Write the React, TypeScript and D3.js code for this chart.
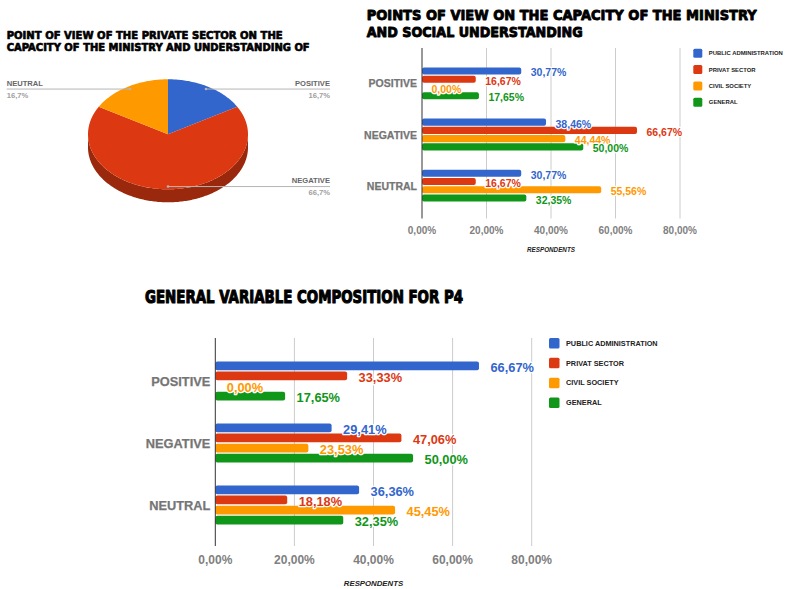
import React from "react";
import * as d3 from "d3";

// ---------- DATA ----------
const categories = ["POSITIVE", "NEGATIVE", "NEUTRAL"];
const seriesNames = ["PUBLIC ADMINISTRATION", "PRIVAT SECTOR", "CIVIL SOCIETY", "GENERAL"];
const seriesColors = ["#3366cc", "#dc3912", "#ff9900", "#109618"];

// top-right chart (percent)
const topPublic = [30.77, 38.46, 30.77];
const topPrivat = [16.67, 66.67, 16.67];
const topCivil = [0, 44.44, 55.56];
const topGeneral = [17.65, 50.0, 32.35];

// bottom chart (percent)
const botPublic = [66.67, 29.41, 36.36];
const botPrivat = [33.33, 47.06, 18.18];
const botCivil = [0, 23.53, 45.45];
const botGeneral = [17.65, 50.0, 32.35];

const xTicks = [0, 20, 40, 60, 80];

// pie (private sector)
const pieLabels = ["POSITIVE", "NEGATIVE", "NEUTRAL"];
const pieShares = [1 / 6, 4 / 6, 1 / 6];
const pieColors = ["#3366cc", "#dc3912", "#ff9900"];

const pieTitle = [
  "POINT OF VIEW OF THE PRIVATE SECTOR ON THE",
  "CAPACITY OF THE MINISTRY AND UNDERSTANDING OF",
];
const topTitle = ["POINTS OF VIEW ON THE CAPACITY OF THE MINISTRY", "AND SOCIAL UNDERSTANDING"];
const botTitle = "GENERAL VARIABLE COMPOSITION FOR P4";
const axisTitle = "RESPONDENTS";

// ---------- helpers ----------
const loc = d3.formatLocale({
  decimal: ",",
  thousands: ".",
  grouping: [3],
  currency: ["", "€"],
});
const fmtPct = loc.format(".2%");
const fmtPct1 = loc.format(".1%");

const LABEL_FONT = "'Liberation Sans', Arial, sans-serif";
const TITLE_FONT = "'DejaVu Sans', 'Liberation Sans', sans-serif";

type BarCfg = {
  series: number[][];
  x0: number;
  x80: number;
  yTop: number;
  yBot: number;
  axisTop: number;
  axisBot: number;
  groupPitch: number;
  catFont: number;
  valFont: number;
  valOffset: number;
  tickFont: number;
  tickY: number;
  respY: number;
  respFont: number;
  legX: number;
  legY0: number;
  legPitch: number;
  legSize: number;
  legFont: number;
};

function BarChart({ c }: { c: BarCfg }) {
  const x = d3.scaleLinear().domain([0, 80]).range([c.x0, c.x80]);
  const y = d3.scaleBand<string>().domain(categories).range([c.yTop, c.yBot]).padding(0);
  const s = d3
    .scaleBand<string>()
    .domain(seriesNames)
    .range([-c.groupPitch, c.groupPitch])
    .paddingInner(0.14)
    .paddingOuter(0.07);
  const bh = s.bandwidth();
  return (
    <g>
      {xTicks.map((t) => (
        <g key={t}>
          {t > 0 && (
            <line x1={x(t)} x2={x(t)} y1={c.axisTop} y2={c.axisBot} stroke="#cccccc" strokeWidth={1} />
          )}
          <text
            x={x(t)}
            y={c.tickY}
            textAnchor="middle"
            dominantBaseline="central"
            fontFamily={LABEL_FONT}
            fontWeight="bold"
            fontSize={c.tickFont}
            fill="#808080"
          >
            {fmtPct(t / 100)}
          </text>
        </g>
      ))}
      {categories.map((cat, ci) => {
        const cy = (y(cat) as number) + y.bandwidth() / 2;
        return (
          <g key={cat}>
            <text
              x={c.x0 - 5}
              y={cy}
              textAnchor="end"
              dominantBaseline="central"
              fontFamily={LABEL_FONT}
              fontWeight="bold"
              fontSize={c.catFont}
              fill="#757575"
              stroke="#757575"
              strokeWidth={0.25}
            >
              {cat}
            </text>
            {seriesNames.map((sn, si) => {
              const v = c.series[si][ci];
              const by = cy + (s(sn) as number);
              const w = x(v) - x(0);
              return (
                <g key={sn}>
                  {w > 0 && (
                    <rect x={x(0)} y={by} width={w} height={bh} rx={2} fill={seriesColors[si]} />
                  )}
                </g>
              );
            })}
          </g>
        );
      })}
      <line x1={c.x0} x2={c.x0} y1={c.axisTop} y2={c.axisBot} stroke="#333333" strokeWidth={1} />
      {categories.map((cat, ci) => {
        const cy = (y(cat) as number) + y.bandwidth() / 2;
        return seriesNames.map((sn, si) => {
          const v = c.series[si][ci];
          const by = cy + (s(sn) as number);
          return (
            <text
              key={cat + sn}
              x={x(v) + c.valOffset}
              y={by + bh / 2 + 1.5}
              dominantBaseline="central"
              fontFamily={LABEL_FONT}
              fontWeight="bold"
              fontSize={c.valFont}
              fill={seriesColors[si]}
              stroke="#ffffff"
              strokeWidth={2.5}
              paintOrder="stroke"
              strokeLinejoin="round"
            >
              {fmtPct(v / 100)}
            </text>
          );
        });
      })}
      <text
        x={(c.x0 + c.x80) / 2}
        y={c.respY}
        textAnchor="middle"
        dominantBaseline="central"
        fontFamily={LABEL_FONT}
        fontWeight="bold"
        fontStyle="italic"
        fontSize={c.respFont}
        fill="#222222"
      >
        {axisTitle}
      </text>
      {seriesNames.map((sn, si) => {
        const ly = c.legY0 + si * c.legPitch;
        return (
          <g key={"leg" + sn}>
            <rect
              x={c.legX}
              y={ly - c.legSize / 2}
              width={c.legSize}
              height={c.legSize}
              rx={1.5}
              fill={seriesColors[si]}
            />
            <text
              x={c.legX + c.legSize + 6.5}
              y={ly}
              dominantBaseline="central"
              fontFamily={LABEL_FONT}
              fontWeight="bold"
              fontSize={c.legFont}
              fill="#222222"
            >
              {sn}
            </text>
          </g>
        );
      })}
    </g>
  );
}

function Pie3D() {
  const cx = 168;
  const cy = 134.3;
  const rx = 80;
  const ry = 55;
  const depth = 13;
  const arcs = d3
    .pie<number>()
    .sort(null)
    .value((d) => d)(pieShares);
  const pt = (a: number, k = 1, dy = 0): [number, number] => [
    cx + rx * k * Math.sin(a),
    cy + dy - ry * k * Math.cos(a),
  ];
  const line = d3.line();
  const sample = (a0: number, a1: number, dy = 0) => {
    const n = Math.max(2, Math.ceil(((a1 - a0) * 180) / Math.PI));
    return d3.range(n + 1).map((i) => pt(a0 + ((a1 - a0) * i) / n, 1, dy));
  };
  const sides: React.ReactNode[] = [];
  arcs.forEach((a, i) => {
    const s0 = Math.max(a.startAngle, Math.PI / 2);
    const s1 = Math.min(a.endAngle, (3 * Math.PI) / 2);
    if (s1 > s0) {
      const top = sample(s0, s1, 0);
      const bot = sample(s0, s1, depth).reverse();
      sides.push(
        <path
          key={"side" + i}
          d={(line([...top, ...bot]) as string) + "Z"}
          fill={d3.color(pieColors[i])!.darker(1).formatHex()}
        />
      );
    }
  });
  const rightX = 330;
  const leftX = 6.7;
  return (
    <g>
      {sides}
      {arcs.map((a, i) => (
        <path
          key={"top" + i}
          d={(line([[cx, cy], ...sample(a.startAngle, a.endAngle)]) as string) + "Z"}
          fill={pieColors[i]}
        />
      ))}
      {arcs.map((a, i) => {
        const mid = (a.startAngle + a.endAngle) / 2;
        const [px, py] = pt(mid, 0.95);
        const right = Math.sin(mid) >= -0.01;
        const tx = right ? rightX : leftX;
        return (
          <g key={"lab" + i}>
            <line x1={px} x2={tx} y1={py} y2={py} stroke="#b5b5b5" strokeWidth={1} />
            <circle cx={px} cy={py} r={1.3} fill="#b5b5b5" />
            <text
              x={tx}
              y={py - 3.5}
              textAnchor={right ? "end" : "start"}
              fontFamily={LABEL_FONT}
              fontWeight="bold"
              fontSize={7.6}
              fill="#666666"
            >
              {pieLabels[i]}
            </text>
            <text
              x={tx}
              y={py + 8.5}
              textAnchor={right ? "end" : "start"}
              fontFamily={LABEL_FONT}
              fontWeight="bold"
              fontSize={7.6}
              fill="#a0a0a0"
            >
              {fmtPct1(a.data)}
            </text>
          </g>
        );
      })}
    </g>
  );
}

function Title({ x, y, text, size, len }: { x: number; y: number; text: string; size: number; len: number }) {
  return (
    <text
      x={x}
      y={y}
      fontFamily={TITLE_FONT}
      fontWeight="bold"
      fontSize={size}
      fill="#000000"
      stroke="#000000"
      strokeWidth={size * 0.065}
      strokeLinejoin="round"
      textLength={len}
      lengthAdjust="spacingAndGlyphs"
    >
      {text}
    </text>
  );
}

export default function App() {
  const topCfg: BarCfg = {
    series: [topPublic, topPrivat, topCivil, topGeneral],
    x0: 422,
    x80: 680,
    yTop: 57.7,
    yBot: 211.3,
    axisTop: 48,
    axisBot: 218.5,
    groupPitch: 16.5,
    catFont: 10.5,
    valFont: 10.5,
    valOffset: 9.5,
    tickFont: 10,
    tickY: 230,
    respY: 249,
    respFont: 6.3,
    legX: 693.3,
    legY0: 53.3,
    legPitch: 16.3,
    legSize: 9,
    legFont: 5.9,
  };
  const botCfg: BarCfg = {
    series: [botPublic, botPrivat, botCivil, botGeneral],
    x0: 215.3,
    x80: 531.7,
    yTop: 350,
    yBot: 536,
    axisTop: 338,
    axisBot: 546,
    groupPitch: 20.3,
    catFont: 12.8,
    valFont: 12.8,
    valOffset: 11.5,
    tickFont: 12,
    tickY: 560,
    respY: 583,
    respFont: 7.8,
    legX: 549,
    legY0: 343.3,
    legPitch: 19.8,
    legSize: 10.5,
    legFont: 7.3,
  };
  return (
    <svg
      width={785}
      height={589}
      viewBox="0 0 785 589"
      style={{ position: "absolute", left: 0, top: 0, background: "#ffffff" }}
    >
      <rect x={0} y={0} width={785} height={589} fill="#ffffff" />
      <Title x={6.7} y={38.5} text={pieTitle[0]} size={11} len={276} />
      <Title x={6.7} y={51} text={pieTitle[1]} size={11} len={303} />
      <Pie3D />
      <Title x={366.7} y={20} text={topTitle[0]} size={14} len={390} />
      <Title x={366.7} y={37} text={topTitle[1]} size={14} len={216} />
      <BarChart c={topCfg} />
      <Title x={145} y={302.5} text={botTitle} size={17.5} len={318} />
      <BarChart c={botCfg} />
    </svg>
  );
}
